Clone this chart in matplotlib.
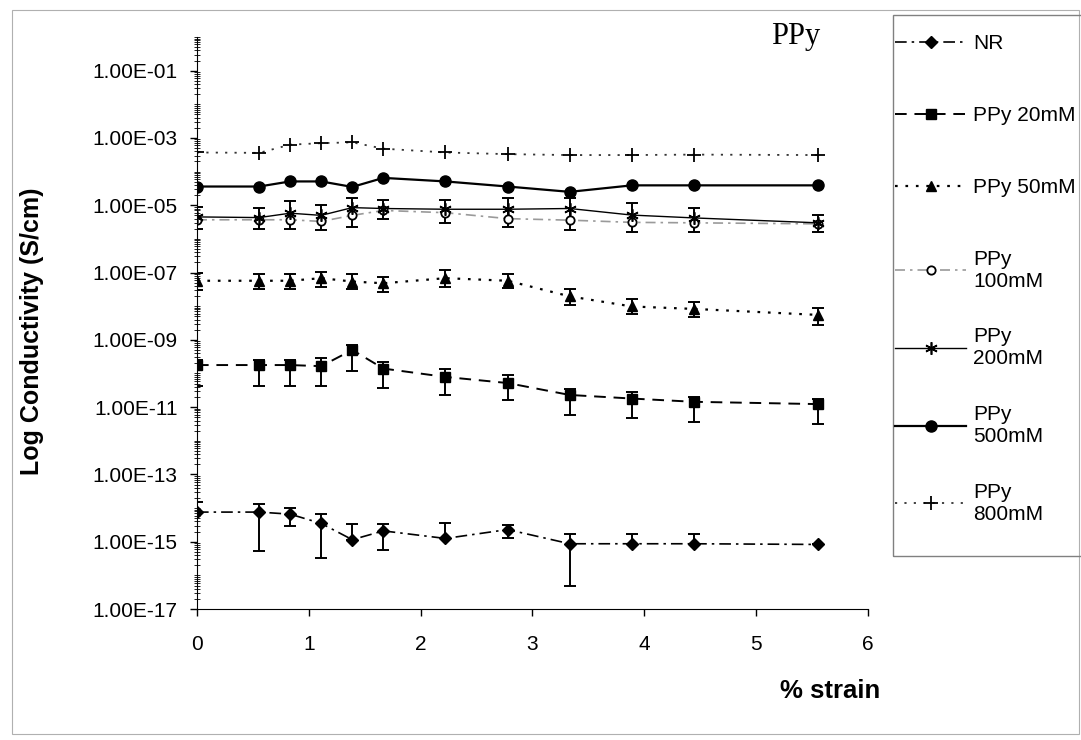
import numpy as np
import matplotlib
matplotlib.use('Agg')
import matplotlib.pyplot as plt
from matplotlib.ticker import FixedLocator, FuncFormatter, LogLocator, NullFormatter
from matplotlib.patches import Rectangle

# % strain
strain = [0, 0.556, 0.833, 1.111, 1.389, 1.667, 2.222, 2.778, 3.333, 3.889, 4.444, 5.556]

# conductivity (S/cm)
nr = [7.6e-15, 7.6e-15, 6.6e-15, 3.5e-15, 1.15e-15, 2.1e-15, 1.25e-15, 2.3e-15, 8.7e-16, 8.7e-16, 8.7e-16, 8.3e-16]
nr_hi = [1.5e-14, 1.35e-14, 1.02e-14, 6.6e-15, 3.3e-15, 3.3e-15, 3.6e-15, 3.1e-15, 1.75e-15, 1.75e-15, 1.75e-15, 8.3e-16]
nr_lo = [7.6e-15, 5.2e-16, 2.9e-15, 3.2e-16, 1.15e-15, 5.8e-16, 1.25e-15, 1.25e-15, 5.0e-17, 8.7e-16, 8.7e-16, 8.3e-16]

ppy20 = [1.78e-10, 1.78e-10, 1.78e-10, 1.65e-10, 5.0e-10, 1.4e-10, 7.9e-11, 5.2e-11, 2.3e-11, 1.8e-11, 1.44e-11, 1.23e-11]
ppy20_hi = [2.5e-10, 2.5e-10, 2.5e-10, 2.8e-10, 7.1e-10, 2.2e-10, 1.4e-10, 8.9e-11, 3.4e-11, 2.9e-11, 2.0e-11, 1.7e-11]
ppy20_lo = [4.2e-11, 4.2e-11, 4.2e-11, 4.2e-11, 1.2e-10, 3.8e-11, 2.3e-11, 1.6e-11, 5.7e-12, 4.6e-12, 3.6e-12, 3.1e-12]

ppy50 = [5.7e-8, 5.7e-8, 5.7e-8, 6.8e-8, 5.4e-8, 4.8e-8, 6.8e-8, 5.7e-8, 1.96e-8, 9.8e-9, 8.3e-9, 5.5e-9]
ppy50_hi = [1.0e-7, 9.1e-8, 9.1e-8, 1.07e-7, 9.1e-8, 7.6e-8, 1.15e-7, 9.1e-8, 3.2e-8, 1.6e-8, 1.3e-8, 8.7e-9]
ppy50_lo = [3.0e-8, 3.2e-8, 3.2e-8, 3.6e-8, 3.2e-8, 2.7e-8, 3.8e-8, 3.4e-8, 1.1e-8, 5.9e-9, 4.9e-9, 2.75e-9]

ppy100 = [3.7e-6, 3.7e-6, 3.7e-6, 3.3e-6, 5.0e-6, 7.0e-6, 6.0e-6, 4.0e-6, 3.6e-6, 3.1e-6, 3.0e-6, 2.8e-6]
ppy100_hi = [8.7e-6, 8.1e-6, 1.35e-5, 1.0e-5, 1.6e-5, 1.45e-5, 1.45e-5, 1.6e-5, 1.6e-5, 1.15e-5, 8.1e-6, 5.1e-6]
ppy100_lo = [1.95e-6, 1.95e-6, 1.95e-6, 1.78e-6, 2.3e-6, 3.9e-6, 2.95e-6, 2.2e-6, 1.85e-6, 1.65e-6, 1.65e-6, 1.55e-6]

ppy200 = [4.5e-6, 4.3e-6, 5.8e-6, 5.0e-6, 8.5e-6, 8.0e-6, 7.6e-6, 7.6e-6, 8.0e-6, 5.1e-6, 4.2e-6, 3.0e-6]
ppy500 = [3.6e-5, 3.6e-5, 5.1e-5, 5.1e-5, 3.5e-5, 6.5e-5, 5.1e-5, 3.6e-5, 2.5e-5, 3.9e-5, 3.9e-5, 3.9e-5]
ppy800 = [3.7e-4, 3.6e-4, 6.3e-4, 7.0e-4, 7.4e-4, 4.8e-4, 3.7e-4, 3.3e-4, 3.1e-4, 3.1e-4, 3.2e-4, 3.1e-4]

plt.rcParams['font.family'] = ['Liberation Sans', 'DejaVu Sans']

fig = plt.figure(figsize=(10.81, 7.40), dpi=100)
ax = fig.add_axes([0.1822, 0.177, 0.6207, 0.773])


def yerr(y, lo, hi):
    y = np.array(y)
    return [y - np.array(lo), np.array(hi) - y]


# error bars first so markers sit on top
ebkw = dict(fmt='none', ecolor='black', elinewidth=1.4, capsize=4, capthick=1.4, zorder=2)
ax.errorbar(strain, nr, yerr=yerr(nr, nr_lo, nr_hi), **ebkw)
ax.errorbar(strain, ppy20, yerr=yerr(ppy20, ppy20_lo, ppy20_hi), **ebkw)
ax.errorbar(strain, ppy50, yerr=yerr(ppy50, ppy50_lo, ppy50_hi), **ebkw)
ax.errorbar(strain, ppy100, yerr=yerr(ppy100, ppy100_lo, ppy100_hi), **ebkw)

h_nr, = ax.plot(strain, nr, color='black', lw=1.2, ls=(0, (7, 3, 1.5, 3)),
                marker='D', ms=6, mfc='black', label='NR', zorder=3)
h20, = ax.plot(strain, ppy20, color='black', lw=1.4, ls=(0, (6, 4)),
               marker='s', ms=7, mfc='black', label='PPy 20mM', zorder=3)
h50, = ax.plot(strain, ppy50, color='black', lw=1.6, ls=(0, (1.2, 3.5)),
               marker='^', ms=7, mfc='black', label='PPy 50mM', zorder=3)
h100, = ax.plot(strain, ppy100, color='#9a9a9a', lw=1.2, ls=(0, (6, 3, 1.5, 3)),
                marker='o', ms=6, mfc='white', mec='black', mew=1.3, label='PPy\n100mM', zorder=3)
h200, = ax.plot(strain, ppy200, color='black', lw=1.0, ls='-',
                marker=(6, 2, 0), ms=9, mec='black', mew=1.2, label='PPy\n200mM', zorder=3)
h500, = ax.plot(strain, ppy500, color='black', lw=1.6, ls='-',
                marker='o', ms=8, mfc='black', label='PPy\n500mM', zorder=3)
h800, = ax.plot(strain, ppy800, color='#333333', lw=1.3, ls=(0, (1.2, 4)),
                marker='+', ms=10, mec='black', mew=1.3, label='PPy\n800mM', zorder=3)

ax.set_yscale('log')
ax.set_ylim(1e-17, 1)
ax.set_xlim(0, 6)

ax.yaxis.set_major_locator(FixedLocator([10.0 ** k for k in range(-17, 0, 2)]))
ax.yaxis.set_major_formatter(FuncFormatter(lambda v, p: '{:.2E}'.format(v)))
ax.yaxis.set_minor_locator(LogLocator(base=10, subs=np.arange(1, 10), numticks=100))
ax.yaxis.set_minor_formatter(NullFormatter())
ax.set_xticks(range(0, 7))

ax.spines['top'].set_visible(False)
ax.spines['right'].set_visible(False)
ax.tick_params(axis='both', which='major', direction='out', length=5, width=1, labelsize=15)
ax.tick_params(axis='y', which='minor', direction='inout', length=4, width=0.6)
ax.tick_params(axis='y', pad=9)
ax.tick_params(axis='x', pad=14)

ax.set_ylabel('Log Conductivity (S/cm)', fontsize=18, fontweight='bold')
ax.yaxis.set_label_coords(-0.228, 0.485)
fig.text(0.814, 0.066, '% strain', fontsize=18.5, fontweight='bold', ha='right', va='center')
fig.text(0.7364, 0.951, 'PPy', fontsize=22, family='Liberation Serif', ha='center', va='center')

# outer frame and legend box
fig.patches.append(Rectangle((0.011, 0.008), 0.987, 0.978, transform=fig.transFigure,
                             fill=False, ec='#b0b0b0', lw=0.8))
fig.patches.append(Rectangle((893 / 1081, 1 - 556 / 740), 0.2, 541 / 740, transform=fig.transFigure,
                             fill=False, ec='#808080', lw=1.0, clip_on=False))

legkw = dict(loc='upper left', frameon=False, fontsize=15, handlelength=3.4,
             handletextpad=0.35, borderpad=0.3, borderaxespad=0)
leg1 = fig.legend(handles=[h_nr, h20, h50], bbox_to_anchor=(0.8224, 0.9626),
                  labelspacing=2.55, **legkw)
leg2 = fig.legend(handles=[h100, h200, h500, h800], bbox_to_anchor=(0.8224, 0.671),
                  labelspacing=1.76, **legkw)

fig.savefig('out.png', dpi=100)
